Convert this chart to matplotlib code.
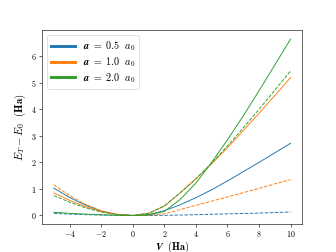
import matplotlib
matplotlib.use("Agg")
import matplotlib.pyplot as plt
from matplotlib.lines import Line2D
from matplotlib.ticker import FuncFormatter

plt.rcParams["mathtext.fontset"] = "cm"
plt.rcParams["font.family"] = "DejaVu Sans"

V = [-5, -4, -3, -2, -1, 0, 1, 2, 3, 4, 5, 6, 7, 8, 9, 10]

# solid curves
e_05 = [1.03, 0.68, 0.39, 0.17, 0.04, 0.0, 0.03, 0.18, 0.40, 0.67, 0.97, 1.30, 1.65, 2.00, 2.36, 2.72]
e_10 = [0.85, 0.57, 0.33, 0.15, 0.04, 0.0, 0.08, 0.35, 0.85, 1.38, 1.95, 2.55, 3.20, 3.85, 4.52, 5.20]
e_20 = [0.12, 0.08, 0.05, 0.025, 0.008, 0.0, 0.02, 0.15, 0.60, 1.22, 2.00, 2.85, 3.75, 4.70, 5.67, 6.65]

# dashed curves
d_05 = [0.08, 0.05, 0.03, 0.015, 0.004, 0.0, 0.0, 0.005, 0.015, 0.03, 0.045, 0.06, 0.075, 0.09, 0.11, 0.13]
d_10 = [1.15, 0.75, 0.42, 0.18, 0.045, 0.0, 0.01, 0.06, 0.22, 0.38, 0.54, 0.70, 0.86, 1.02, 1.19, 1.35]
d_20 = [0.75, 0.50, 0.29, 0.13, 0.03, 0.0, 0.08, 0.36, 0.85, 1.38, 1.97, 2.62, 3.30, 4.00, 4.72, 5.45]

labels = [r"$\boldsymbol{a}\ \mathbf{=}\ \mathbf{0.5}\ \ \boldsymbol{a_0}$",
          r"$\boldsymbol{a}\ \mathbf{=}\ \mathbf{1.0}\ \ \boldsymbol{a_0}$",
          r"$\boldsymbol{a}\ \mathbf{=}\ \mathbf{2.0}\ \ \boldsymbol{a_0}$"]
colors = ["tab:blue", "tab:orange", "tab:green"]

fig, ax = plt.subplots(figsize=(6.4, 4.8))

for solid, dashed, c in zip([e_05, e_10, e_20], [d_05, d_10, d_20], colors):
    ax.plot(V, solid, color=c, lw=1.3)
    ax.plot(V, dashed, color=c, lw=1.3, ls="--")

handles = [Line2D([], [], color=c, lw=4) for c in colors]
ax.legend(handles, labels, loc="upper left", fontsize=14, labelspacing=0.2,
          handlelength=2.3)

ax.xaxis.set_major_formatter(FuncFormatter(lambda v, p: rf"$\mathbf{{{v:g}}}$".replace("-", "−")))
ax.yaxis.set_major_formatter(FuncFormatter(lambda v, p: rf"$\mathbf{{{v:g}}}$"))
ax.tick_params(labelsize=11)

ax.set_xlabel(r"$\boldsymbol{V}\ \ \mathbf{(Ha)}$", fontsize=14, labelpad=1)
ax.set_ylabel(r"$\boldsymbol{E_T} - \boldsymbol{E_0}\ \ \mathbf{(Ha)}$", fontsize=15)

fig.savefig("out.png", dpi=52.5)
